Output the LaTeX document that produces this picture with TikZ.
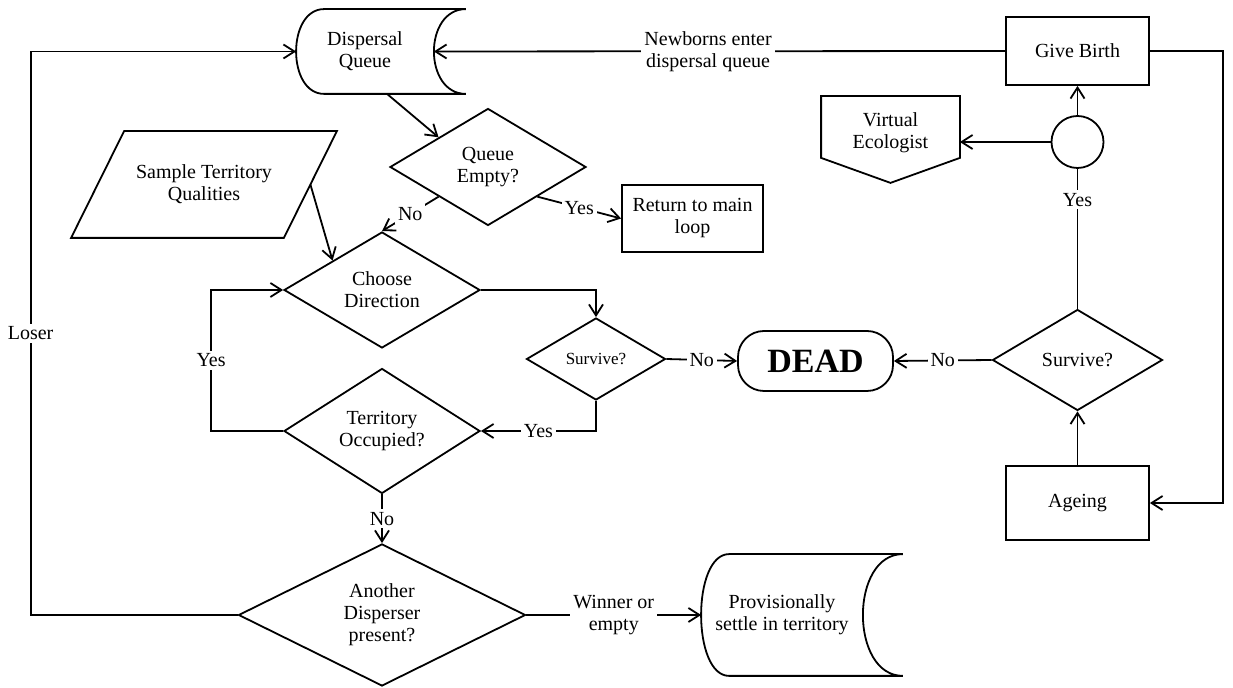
\documentclass[tikz,border=0pt]{standalone}
\usepackage{fontspec}
\setmainfont{Liberation Serif}
\usetikzlibrary{shapes.geometric,arrows.meta}

\begin{document}
\begin{tikzpicture}[x=0.5pt, y=-0.5pt, line width=0.9pt, font=\fontsize{10}{11}\selectfont,
  >={Straight Barb[length=5.5pt,width=7pt]},
  box/.style={draw, align=center, inner sep=2pt},
  decision/.style={diamond, draw, align=center, inner sep=0pt},
  plain/.style={align=center, inner sep=0pt},
  lbl/.style={fill=white, inner sep=1.5pt, align=center}]
\useasboundingbox (0,0) rectangle (1233,688);

\node (Q) at (365, 51.5) [plain, minimum width=68pt, minimum height=41.5pt] {Dispersal\\Queue};
\node (QE) at (488, 167) [decision, minimum width=98pt, minimum height=58.5pt] {Queue\\Empty?};
\node (RM) at (692.5, 218.5) [box, minimum width=70.5pt, minimum height=33.5pt] {Return to main\\loop};
\node (SP) at (204, 184.5) [plain, minimum width=105.5pt, minimum height=52.5pt] {Sample Territory\\Qualities};
\node (CD) at (382, 290) [decision, minimum width=98pt, minimum height=58pt] {Choose\\Direction};
\node (SL) at (596, 359) [decision, minimum width=69.5pt, minimum height=41pt, font=\fontsize{8.5}{10}\selectfont] {Survive?};
\node (TO) at (382, 431) [decision, minimum width=98pt, minimum height=59pt] {Territory\\Occupied?};
\node (AD) at (382, 615) [decision, minimum width=143.5pt, minimum height=71pt] {Another\\Disperser\\present?};
\node (PS) at (782, 615) [plain, minimum width=80pt, minimum height=60pt] {Provisionally\\settle in territory};
\node (DEAD) at (815.5, 361) [draw, rounded corners=13pt, minimum width=77.5pt, minimum height=30pt, font=\fontsize{17}{20}\selectfont\bfseries] {DEAD};
\node (GB) at (1077.5, 51) [box, minimum width=71.5pt, minimum height=34pt] {Give Birth};
\node (C) at (1077.5, 142) [circle, draw, minimum size=26pt, inner sep=0pt] {};
\node (VE) at (890.5, 133) [plain, minimum width=68.5pt, minimum height=24pt] {Virtual\\Ecologist};
\node (SR) at (1077.5, 360) [decision, minimum width=85pt, minimum height=50.5pt] {Survive?};
\node (AG) at (1077.5, 503) [box, minimum width=71.5pt, minimum height=37pt] {Ageing};

\draw ([xshift=14pt]Q.north west) -- ([xshift=16pt]Q.north east)
  .. controls ([xshift=-5.33pt]Q.north east) and ([xshift=-5.33pt]Q.south east) .. ([xshift=16pt]Q.south east)
  -- ([xshift=14pt]Q.south west)
  .. controls ([xshift=-4.67pt]Q.south west) and ([xshift=-4.67pt]Q.north west) .. cycle;
\draw ([xshift=14pt]PS.north west) -- ([xshift=20pt]PS.north east)
  .. controls ([xshift=-6.67pt]PS.north east) and ([xshift=-6.67pt]PS.south east) .. ([xshift=20pt]PS.south east)
  -- ([xshift=14pt]PS.south west)
  .. controls ([xshift=-4.67pt]PS.south west) and ([xshift=-4.67pt]PS.north west) .. cycle;
\draw ([xshift=-13.25pt]SP.south west) -- ([xshift=13.25pt]SP.north west) -- ([xshift=13.25pt]SP.north east) -- ([xshift=-13.25pt]SP.south east) -- cycle;
\draw (VE.south west) -- ([yshift=6pt]VE.north west) -- ([yshift=6pt]VE.north east) -- (VE.south east) -- ([yshift=-12.5pt]VE.south) -- cycle;

\draw[->] ([xshift=11pt]Q.south) to (QE.north west);
\draw[->] (QE.south east) to node[lbl]{Yes} (RM.west);
\draw[->] (QE.south west) to node[lbl]{No} (CD.north);
\draw[->] (SP.east) to (CD.north west);
\draw[->] (CD.east) -| (SL.north);
\draw[->] (SL.east) to node[lbl]{No} (DEAD.west);
\draw[->] (SL.south) |- node[lbl,pos=0.75]{Yes} (TO.east);
\draw[->] (TO.west) -- ++(-72,0) |- node[lbl,pos=0.25]{Yes} (CD.west);
\draw[->] (TO.south) to node[lbl]{No} (AD.north);
\draw[->] (AD.east) to node[lbl]{Winner or\\empty} (PS.west);
\draw[->] (AD.west) -- ++(-207,0) |- node[lbl,pos=0.25]{Loser} (Q.west);
\draw[->] (SR.west) to node[lbl]{No} (DEAD.east);
\draw[->] (AG.north) to (SR.south);
\draw (SR.north) to node[lbl,pos=0.78]{Yes} (C.south);
\draw[->] (C.north) to (GB.south);
\draw[->] (C.west) to (C.west -| VE.east);
\draw[->] (GB.west) to node[lbl,pos=0.52]{Newborns enter\\dispersal queue} (Q.east);
\draw[->] (GB.east) -- ++(73,0) |- (AG.east);
\end{tikzpicture}
\end{document}
